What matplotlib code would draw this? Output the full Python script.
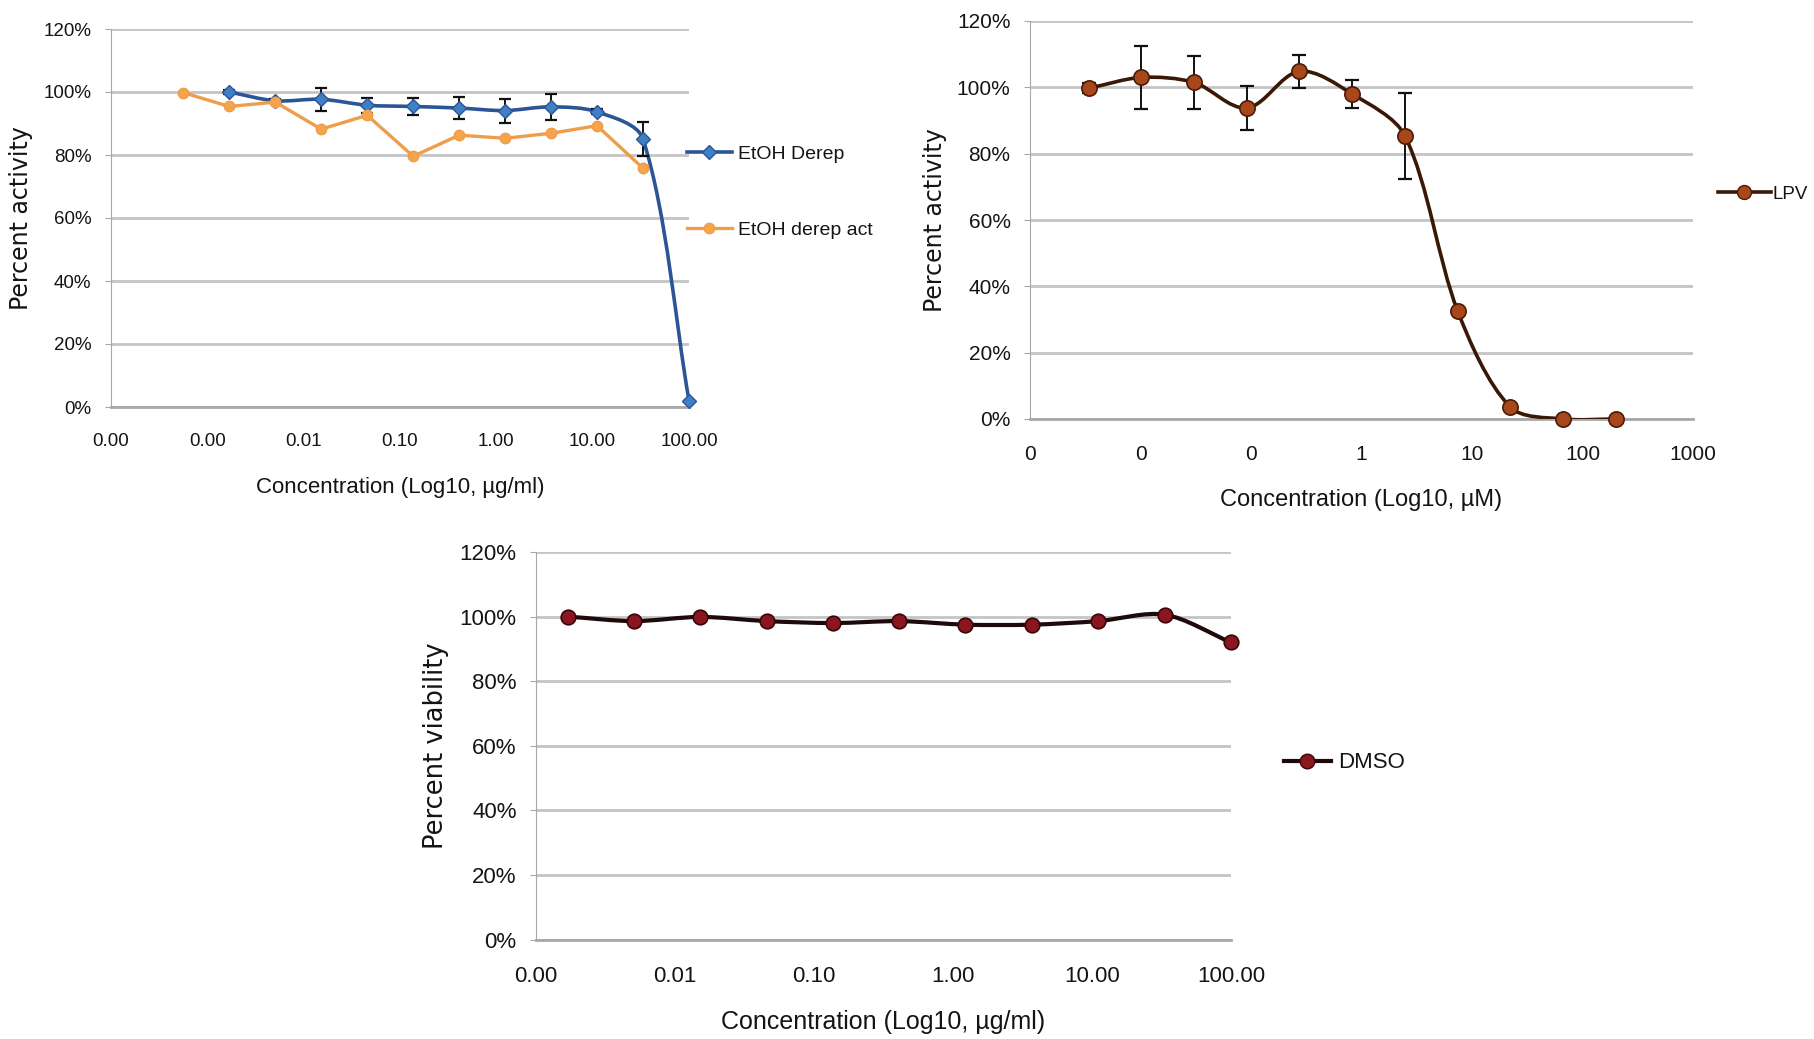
import numpy as np
import matplotlib
matplotlib.use("Agg")
import matplotlib.pyplot as plt
from matplotlib.path import Path
from matplotlib.patches import PathPatch
from matplotlib.lines import Line2D
from matplotlib.ticker import PercentFormatter, NullLocator

plt.rcParams['font.family'] = ['Liberation Sans', 'DejaVu Sans']

# --- EtOH derep extract (µg/ml) ---
etoh_conc = [0.00169, 0.00508, 0.0152, 0.0457, 0.137, 0.412, 1.23, 3.70, 11.1, 33.3, 100.0]
etoh_act = [100.0, 97.2, 97.7, 95.8, 95.4, 94.9, 94.1, 95.3, 93.7, 85.1, 2.0]
etoh_err = [0.5, 0.6, 3.7, 2.4, 2.6, 3.6, 3.8, 4.2, 0.8, 5.3, 0.0]

etoh_act_conc = [0.000564, 0.00169, 0.00508, 0.0152, 0.0457, 0.137, 0.412, 1.23, 3.70, 11.1, 33.3]
etoh_act_vals = [99.8, 95.4, 96.8, 88.2, 92.6, 79.6, 86.3, 85.3, 86.9, 89.3, 75.8]

# --- LPV control (µM) ---
lpv_conc = [0.00339, 0.0102, 0.0305, 0.0914, 0.274, 0.823, 2.47, 7.41, 22.2, 66.7, 200.0]
lpv_act = [99.7, 103.0, 101.5, 93.8, 104.8, 98.0, 85.4, 32.6, 3.6, 0.0, 0.0]
lpv_err = [1.5, 9.5, 8.0, 6.6, 5.0, 4.2, 12.9, 0.0, 0.0, 0.0, 0.0]

# --- DMSO viability (µg/ml) ---
dmso_conc = [0.00169, 0.00508, 0.0152, 0.0457, 0.137, 0.412, 1.23, 3.70, 11.1, 33.3, 100.0]
dmso_via = [100.0, 98.6, 99.9, 98.6, 98.0, 98.6, 97.5, 97.5, 98.6, 100.6, 92.0]

ticks_a = [1e-4, 1e-3, 1e-2, 1e-1, 1, 10, 100]
labels_a = ['0.00', '0.00', '0.01', '0.10', '1.00', '10.00', '100.00']
ticks_b = [1e-3, 1e-2, 1e-1, 1, 10, 100, 1000]
labels_b = ['0', '0', '0', '1', '10', '100', '1000']
ticks_c = [1e-3, 1e-2, 1e-1, 1, 10, 100]
labels_c = ['0.00', '0.01', '0.10', '1.00', '10.00', '100.00']

TXT = '#141414'
GRID = '#c4c4c4'


def smooth_path(ax, x, y, k=0.3):
    # Excel-like smoothed line: bezier segments built in screen space,
    # tangent along neighbours, handle length tied to the segment length
    pts = ax.transData.transform(np.column_stack([x, y]))
    n = len(pts)
    tang = []
    for i in range(n):
        d = pts[min(i + 1, n - 1)] - pts[max(i - 1, 0)]
        tang.append(d / np.hypot(*d))
    verts = [pts[0]]
    codes = [Path.MOVETO]
    for i in range(n - 1):
        seg = np.hypot(*(pts[i + 1] - pts[i]))
        verts += [pts[i] + tang[i] * seg * k, pts[i + 1] - tang[i + 1] * seg * k, pts[i + 1]]
        codes += [Path.CURVE4] * 3
    data = ax.transData.inverted().transform(np.array(verts))
    return Path(data, codes)


def style_axes(ax, ticks, labels, xlim, ylabel, xlabel, xl_pos, yl_pos, tsize, xsize, ysize):
    ax.set_xscale('log')
    ax.set_xlim(*xlim)
    ax.set_ylim(0, 120)
    ax.set_xticks(ticks)
    ax.set_xticklabels(labels)
    ax.xaxis.set_minor_locator(NullLocator())
    ax.set_yticks(range(0, 121, 20))
    ax.yaxis.set_major_formatter(PercentFormatter(xmax=100, decimals=0))
    ax.grid(axis='y', color=GRID, lw=2.0, zorder=0)
    ax.set_axisbelow(True)
    for s in ['top', 'right']:
        ax.spines[s].set_visible(False)
    ax.spines['left'].set_color('#a8a8a8')
    ax.spines['bottom'].set_color('#a8a8a8')
    ax.spines['bottom'].set_linewidth(2.0)
    ax.tick_params(axis='y', length=4, color='#a8a8a8', pad=10, labelsize=tsize, labelcolor=TXT)
    ax.tick_params(axis='x', length=0, pad=19, labelsize=tsize, labelcolor=TXT)
    ax.set_xlabel(xlabel, fontsize=xsize, color=TXT, va='center')
    ax.xaxis.set_label_coords(0.5, xl_pos)
    ax.set_ylabel(ylabel, fontsize=ysize, color=TXT, family='DejaVu Sans', va='center')
    ax.yaxis.set_label_coords(yl_pos, 0.5)


W, H = 1814, 1039
fig = plt.figure(figsize=(W / 100, H / 100), dpi=100)


def rect(left, right, top, bottom):
    return [left / W, 1 - bottom / H, (right - left) / W, (bottom - top) / H]


# Panel A: EtOH derep extract
ax1 = fig.add_axes(rect(111, 689, 29, 407))
style_axes(ax1, ticks_a, labels_a, (1e-4, 100), 'Percent activity',
           'Concentration (Log10, µg/ml)', -0.214, -0.156, 13.5, 16, 17)
blue_line, blue_mk = '#2C5596', '#3F7FC6'
orange_line, orange_mk = '#EE9D4B', '#F5A44C'
ax1.add_patch(PathPatch(smooth_path(ax1, etoh_conc, etoh_act), fill=False,
                        ec=blue_line, lw=2.6, zorder=3, clip_on=False))
ax1.errorbar(etoh_conc, etoh_act, yerr=etoh_err, fmt='none', ecolor='#111111',
             elinewidth=1.4, capsize=4, capthick=1.6, zorder=4)
ax1.plot(etoh_conc, etoh_act, ls='none', marker='D', ms=7.5, mfc=blue_mk,
         mec=blue_line, mew=1, zorder=5, clip_on=False)
ax1.plot(etoh_act_conc, etoh_act_vals, color=orange_line, lw=2.4, marker='o',
         ms=7.5, mfc=orange_mk, mec=orange_line, zorder=6, clip_on=False)
h1 = [Line2D([], [], color=blue_line, lw=2.6, marker='D', ms=7, mfc=blue_mk, mec=blue_line),
      Line2D([], [], color=orange_line, lw=2.4, marker='o', ms=7.5, mfc=orange_mk, mec=orange_line)]
ax1.legend(h1, ['EtOH Derep', 'EtOH derep act'], loc='center left',
           bbox_to_anchor=(687 / W, 1 - 192 / H), bbox_transform=fig.transFigure,
           frameon=False, fontsize=14, handlelength=2.3, handletextpad=0.3,
           labelspacing=3.0, borderpad=0, borderaxespad=0, labelcolor=TXT)

# Panel B: LPV reference compound
ax2 = fig.add_axes(rect(1030, 1693, 21, 419))
style_axes(ax2, ticks_b, labels_b, (1e-3, 1000), 'Percent activity',
           'Concentration (Log10, µM)', -0.204, -0.143, 15, 17, 17)
lpv_line, lpv_mk, lpv_edge = '#3A1806', '#A8471B', '#4A1C06'
ax2.add_patch(PathPatch(smooth_path(ax2, lpv_conc, lpv_act), fill=False,
                        ec=lpv_line, lw=2.6, zorder=3))
ax2.errorbar(lpv_conc, lpv_act, yerr=lpv_err, fmt='none', ecolor='#111111',
             elinewidth=1.4, capsize=5, capthick=1.6, zorder=4)
ax2.plot(lpv_conc, lpv_act, ls='none', marker='o', ms=11, mfc=lpv_mk,
         mec=lpv_edge, mew=1.2, zorder=5, clip_on=False)
h2 = [Line2D([], [], color=lpv_line, lw=2.6, marker='o', ms=10, mfc=lpv_mk, mec=lpv_edge)]
ax2.legend(h2, ['LPV'], loc='center left',
           bbox_to_anchor=(1718 / W, 1 - 194 / H), bbox_transform=fig.transFigure,
           frameon=False, fontsize=13.5, handlelength=2.8, handletextpad=0.1,
           borderpad=0, borderaxespad=0, labelcolor=TXT)

# Panel C: DMSO vehicle viability
ax3 = fig.add_axes(rect(536, 1231, 552, 939.5))
style_axes(ax3, ticks_c, labels_c, (1e-3, 100), 'Percent viability',
           'Concentration (Log10, µg/ml)', -0.213, -0.144, 16, 18, 18.5)
dmso_line, dmso_mk, dmso_edge = '#1E0A0A', '#8A1620', '#3A0508'
ax3.add_patch(PathPatch(smooth_path(ax3, dmso_conc, dmso_via), fill=False,
                        ec=dmso_line, lw=3.0, zorder=3))
ax3.plot(dmso_conc, dmso_via, ls='none', marker='o', ms=10.5, mfc=dmso_mk,
         mec=dmso_edge, mew=1.2, zorder=5, clip_on=False)
h3 = [Line2D([], [], color=dmso_line, lw=3.0, marker='o', ms=10.5, mfc=dmso_mk, mec=dmso_edge)]
ax3.legend(h3, ['DMSO'], loc='center left',
           bbox_to_anchor=(1284 / W, 1 - 763 / H), bbox_transform=fig.transFigure,
           frameon=False, fontsize=16, handlelength=2.1, handletextpad=0.35,
           borderpad=0, borderaxespad=0, labelcolor=TXT)

fig.savefig('out.png', dpi=100)
